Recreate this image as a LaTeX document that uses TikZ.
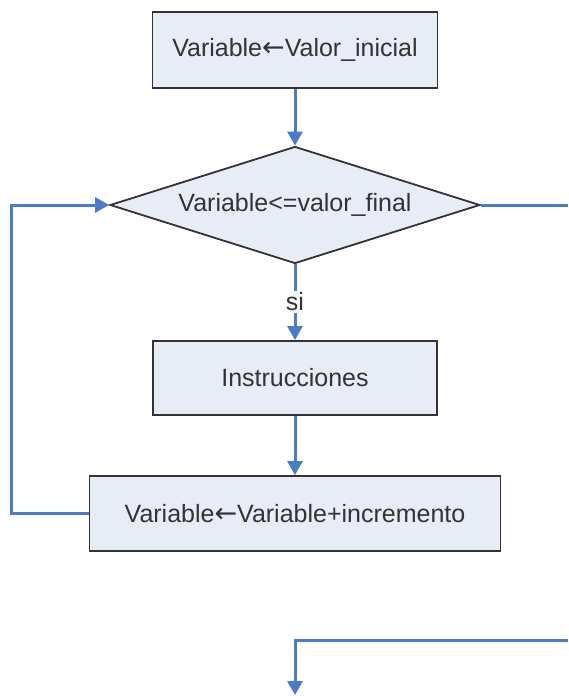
\documentclass[tikz,border=0pt]{standalone}
\usepackage{fontspec}
\setmainfont{Liberation Sans}
\newfontfamily\arrowfont{DejaVu Sans}
\newcommand{\assignarrow}{{\arrowfont\fontsize{27}{29}\selectfont ←}}
\usetikzlibrary{arrows.meta,shapes.geometric}
\definecolor{flowblue}{HTML}{4A7DC8}
\definecolor{boxfill}{HTML}{E7ECF7}
\definecolor{ink}{HTML}{333333}
\begin{document}
\begin{tikzpicture}[x=1pt,y=-1pt,
  every node/.style={font=\fontsize{25}{30}\selectfont, text=ink},
  procbox/.style={draw=ink, line width=1.8pt, fill=boxfill, rectangle, inner sep=0pt},
  decision/.style={draw=ink, line width=1.8pt, fill=boxfill, diamond, shape aspect=3.16,
    minimum width=370pt, minimum height=117pt, inner sep=0pt},
  flow/.style={draw=flowblue, line width=3pt},
  flowarrow/.style={flow, -{Triangle[length=14pt,width=15pt]}}]
  \fill[white] (0,0) rectangle (568,696);
  \useasboundingbox (0,0) rectangle (568,696);

  % process steps
  \node[procbox, minimum width=285pt, minimum height=76pt] (init) at (295,50) {Variable\assignarrow Valor\_inicial};
  \node[decision] (cond) at (295,205) {Variable<=valor\_final};
  \node[procbox, minimum width=284pt, minimum height=74pt] (instr) at (295,378) {Instrucciones};
  \node[procbox, minimum width=411pt, minimum height=75pt] (incr) at (295,513.5) {Variable\assignarrow Variable+incremento};
  \node[fill=white, inner sep=2pt] (si) at (295,302) {si};

  % loose ends of the loop exit
  \coordinate (loopcorner) at (11,513.5);
  \coordinate (exitR) at (568,205);
  \coordinate (enterR) at (568,640);
  \coordinate (endpt) at (295,695);

  % connectors
  \draw[flowarrow] (init.south) -- (cond.north);
  \draw[flow] (cond.south) -- (si.north);
  \draw[flowarrow] (si.south) -- (instr.north);
  \draw[flowarrow] (instr.south) -- (incr.north);
  \draw[flowarrow] (incr.west) -- (loopcorner) |- (cond.west);
  \draw[flow] (cond.east) -- (exitR);
  \draw[flowarrow] (enterR) -| (endpt);
\end{tikzpicture}
\end{document}
